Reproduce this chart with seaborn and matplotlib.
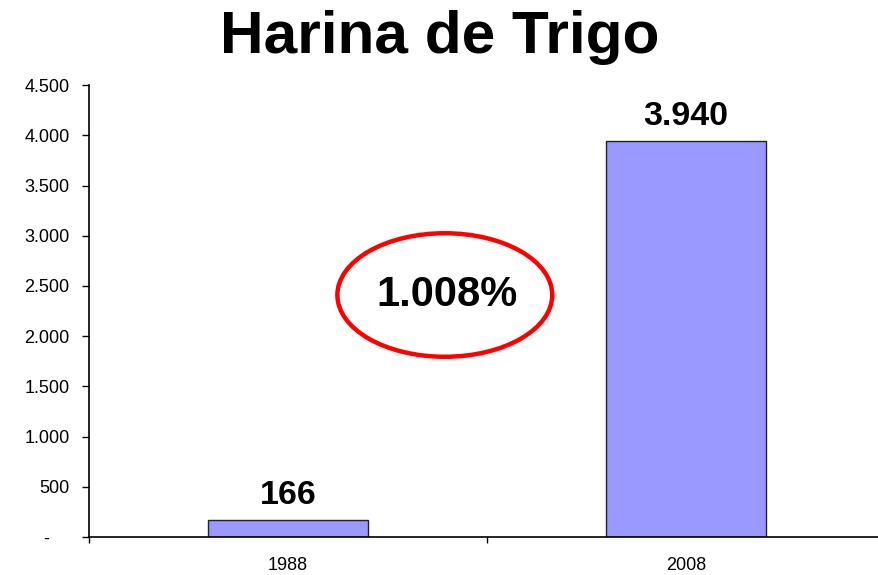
import matplotlib
matplotlib.use("Agg")
import matplotlib.pyplot as plt
from matplotlib.patches import Ellipse
from matplotlib.ticker import FuncFormatter
import seaborn as sns
import pandas as pd

years = ["1988", "2008"]
tonnes = [166, 3940]
value_labels = ["166", "3.940"]
growth_label = "1.008%"
title = "Harina de Trigo"

sns.set_theme(style="ticks")
plt.rcParams["font.family"] = ["Liberation Sans", "DejaVu Sans"]
plt.rcParams["text.color"] = "black"

df = pd.DataFrame({"year": years, "value": tonnes})

fig = plt.figure(figsize=(8.79, 5.75), dpi=100)
ax = fig.add_axes([0.1013, 0.066, 0.9055, 0.786])

sns.barplot(data=df, x="year", y="value", color="#9999FF", saturation=1,
            width=0.4, edgecolor="#222222", linewidth=1, ax=ax)

ax.set_xlim(-0.5, 1.5)
ax.set_ylim(0, 4500)
ax.set_yticks(range(0, 4501, 500))

def thousands(v, pos):
    # excel accounting style: zero shown as a dash
    if v == 0:
        return "-    "
    return f"{int(v):,}".replace(",", ".")

ax.yaxis.set_major_formatter(FuncFormatter(thousands))
ax.set_xlabel("")
ax.set_ylabel("")

sns.despine(ax=ax)
for side in ["left", "bottom"]:
    ax.spines[side].set_linewidth(1.2)
    ax.spines[side].set_color("black")

ax.set_xticks([-0.5, 0.5, 1.5], minor=True)
ax.tick_params(axis="x", which="major", length=0, pad=14.5, labelsize=13, colors="black")
ax.tick_params(axis="x", which="minor", length=4, width=1, color="black", direction="out")
ax.tick_params(axis="y", length=5, width=1, pad=9, labelsize=13, color="black", labelcolor="black")

for i, (v, lab) in enumerate(zip(tonnes, value_labels)):
    ax.annotate(lab, (i, v), xytext=(0, 12), textcoords="offset points",
                ha="center", va="baseline", fontsize=24.5, fontweight="bold", color="black")

ax.add_patch(Ellipse((0.394, 2410), 0.54, 1230, fill=False, edgecolor="#FF0000",
                     linewidth=3.2, zorder=5))
ax.text(0.40, 2415, growth_label, ha="center", va="center", fontsize=30,
        fontweight="bold", color="black", zorder=6)

fig.text(0.5, 0.908, title, ha="center", va="baseline", fontsize=43.5,
         fontweight="bold", color="black")

fig.savefig("out.png", dpi=100)
